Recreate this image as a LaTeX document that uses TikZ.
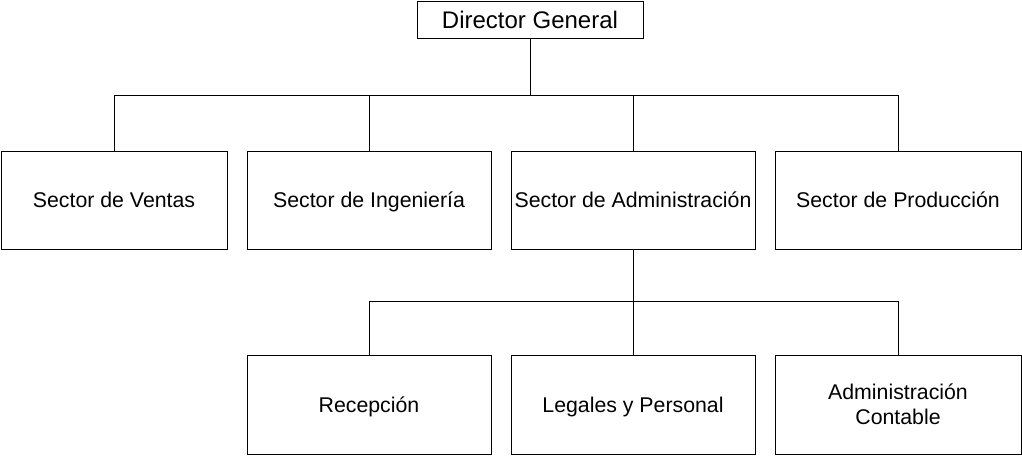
\documentclass[tikz,border=0pt]{standalone}
\usepackage{fontspec}
\setmainfont{Liberation Sans}
\begin{document}
\begin{tikzpicture}[x=1pt,y=-1pt,
  box/.style={draw=black,line width=0.9pt,inner sep=0pt,align=center,font=\fontsize{21.3}{24.5}\selectfont},
  one/.style={text height=15pt,text depth=0pt},
  conn/.style={draw=black,line width=0.9pt}]
\useasboundingbox (0,0) rectangle (1022,455);
\node[box,one,minimum width=226,minimum height=37,font=\fontsize{24}{28}\selectfont,text height=17pt] (dg) at (530,19.5) {Director General};
\node[box,one,minimum width=226,minimum height=98] (v) at (114,200) {Sector de Ventas};
\node[box,one,minimum width=244,minimum height=98] (i) at (369,200) {Sector de Ingeniería};
\node[box,one,minimum width=244,minimum height=98] (a) at (633,200) {Sector de Administración};
\node[box,one,minimum width=246,minimum height=98] (p) at (898,200) {Sector de Producción};
\node[box,one,minimum width=244,minimum height=99] (r) at (369,404.5) {Recepción};
\node[box,one,minimum width=244,minimum height=99] (l) at (633,404.5) {Legales y Personal};
\node[box,minimum width=246,minimum height=99] (c) at (898,404.5) {Administración\\Contable};
\coordinate (b1) at (530,95);
\coordinate (b2) at (633,301);
\draw[conn] (dg.south) -- (b1);
\draw[conn] (v.north) |- (b1);
\draw[conn] (i.north) |- (b1);
\draw[conn] (a.north) |- (b1);
\draw[conn] (p.north) |- (b1);
\draw[conn] (a.south) -- (b2);
\draw[conn] (r.north) |- (b2);
\draw[conn] (l.north) -- (b2);
\draw[conn] (c.north) |- (b2);
\end{tikzpicture}
\end{document}
